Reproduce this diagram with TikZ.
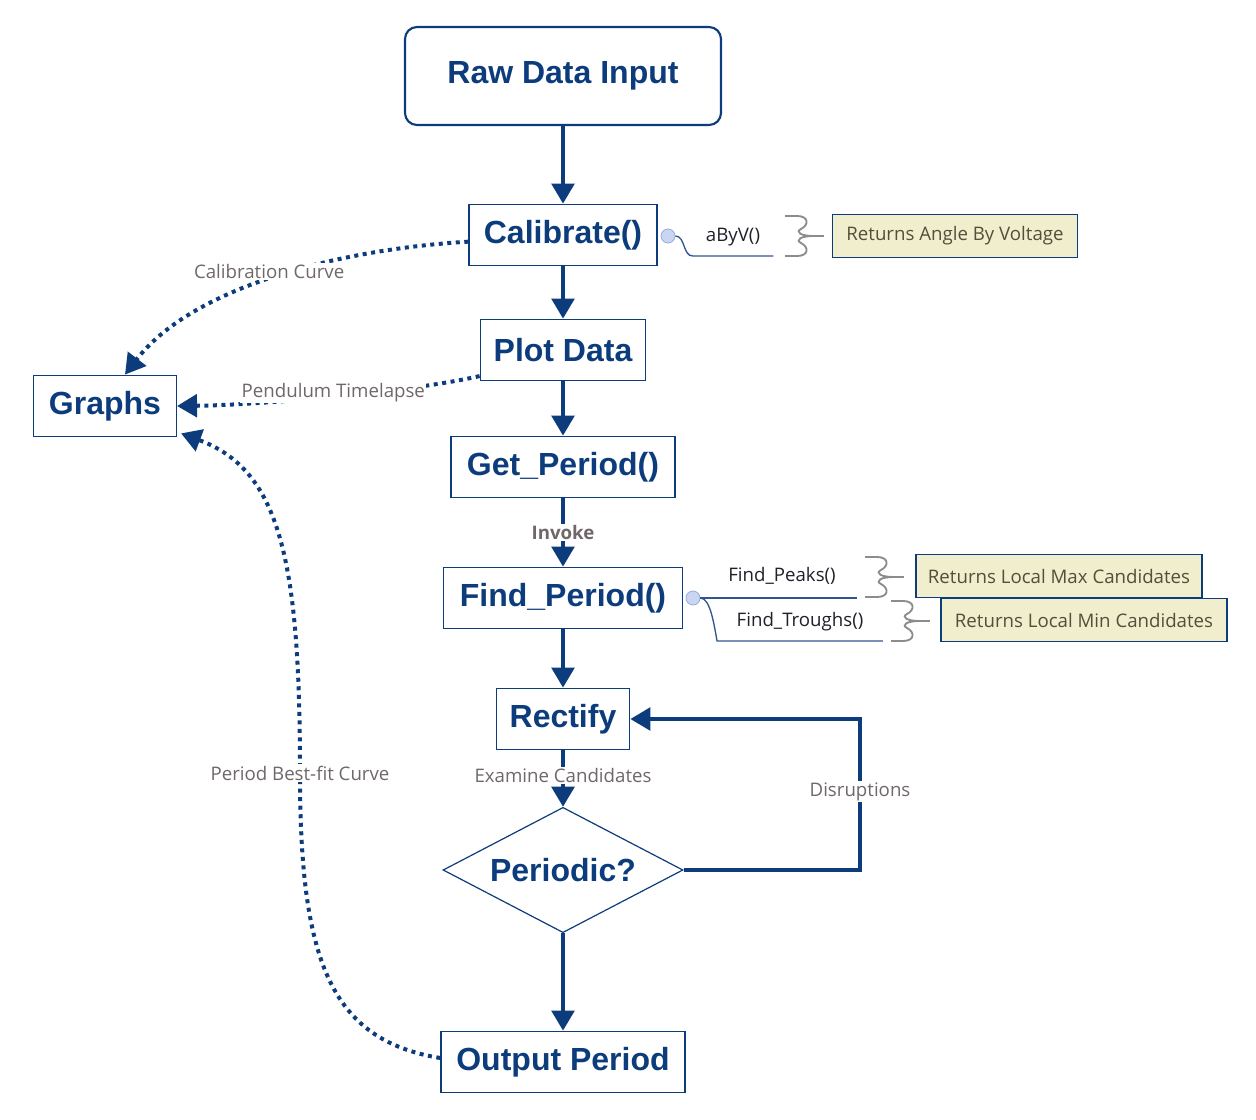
\documentclass[tikz,border=0pt]{standalone}
\usepackage{fontspec}
\setmainfont{Liberation Sans}
\newfontfamily\labelfont{Open Sans}
\usetikzlibrary{arrows.meta, shapes.geometric, positioning, calc}
\definecolor{flowblue}{RGB}{12,60,124}
\definecolor{branchblue}{RGB}{50,85,140}
\definecolor{lblgray}{RGB}{112,104,104}
\definecolor{notefill}{RGB}{240,238,204}
\definecolor{notetext}{RGB}{85,78,60}
\definecolor{fntext}{RGB}{35,30,40}
\definecolor{knobfill}{RGB}{200,214,242}
\definecolor{knobdraw}{RGB}{150,172,218}
\definecolor{bracegray}{RGB}{140,140,140}

\begin{document}
\begin{tikzpicture}[x=0.75pt, y=-0.75pt,
    proc/.style={draw=flowblue, line width=1.1pt, fill=white, text=flowblue,
                 font=\fontsize{24}{28}\selectfont\bfseries,
                 minimum height=46pt, inner sep=0pt},
    start/.style={proc, rounded corners=9pt, line width=1.6pt,
                  minimum width=237pt, minimum height=73.5pt},
    decide/.style={proc, diamond, shape aspect=1.9, line width=0.9pt,
                   minimum width=180pt, minimum height=94pt},
    note/.style={draw=flowblue, line width=0.9pt, fill=notefill, text=notetext,
                 font=\labelfont\fontsize{14}{16}\selectfont,
                 minimum height=32.5pt, inner sep=0pt},
    fn/.style={text=fntext, font=\labelfont\fontsize{14}{16}\selectfont,
               anchor=south, text depth=0pt, inner xsep=0pt},
    knob/.style={circle, draw=knobdraw, fill=knobfill, line width=0.6pt,
                 minimum size=10.5pt, inner sep=0pt},
    lbl/.style={fill=white, text=lblgray, font=\labelfont\fontsize{14}{16}\selectfont,
                inner sep=1pt},
    flow/.style={draw=flowblue, line width=2.8pt, -{Triangle[length=15pt, width=17pt]}},
    link/.style={flow, line width=3pt, dash pattern=on 3pt off 3.4pt},
    branch/.style={draw=branchblue, line width=1pt},
    squig/.pic={
      \draw[bracegray, line width=1.4pt]
        (-28,-20) -- (-16,-20) .. controls (-4,-20) and (-4,-11) .. (-12,-7)
        .. controls (-18,-4) and (-12,0) .. (0,0)
        .. controls (-12,0) and (-18,4) .. (-12,7)
        .. controls (-4,11) and (-4,20) .. (-16,20) -- (-28,20);
      \draw[bracegray, line width=1.2pt] (0,0) -- (11,0);
    }
  ]
    \useasboundingbox (0,0) rectangle (1256,1120);

    % main flow
    \node[start] (raw)      at (563,76)   {Raw Data Input};
    \node[proc, minimum width=141pt] (calib)   at (563,235)  {Calibrate()};
    \node[proc, minimum width=124pt] (plot)    at (563,350)  {Plot Data};
    \node[proc, minimum width=168pt] (getper)  at (563,467)  {Get\_Period()};
    \node[proc, minimum width=179pt] (findper) at (563,598)  {Find\_Period()};
    \node[proc, minimum width=100pt] (rectify) at (563,719)  {Rectify};
    \node[decide] (periodic) at (563,870)  {Periodic?};
    \node[proc, minimum width=183pt] (output)  at (563,1062) {Output Period};
    \node[proc, minimum width=107pt] (graphs)  at (105,406)  {Graphs};
    \coordinate (bend) at (860,870);

    % function branches
    \node[knob] (kcal)  at (668,236) {};
    \node[knob] (kfind) at (693,598) {};
    \node[fn, inner ysep=10.5pt, minimum width=60pt]  (abyv)    at (733,256) {aByV()};
    \node[fn, inner ysep=12pt, minimum width=112pt]   (peaks)   at (782,598) {Find\_Peaks()};
    \node[fn, inner ysep=10.5pt, minimum width=124pt] (troughs) at (800,641) {Find\_Troughs()};
    \draw[branch] (kcal.east) .. controls +(10,0) and +(-10,0) .. (abyv.south west) -- (abyv.south east);
    \draw[branch] (kfind.east) -- (peaks.south east);
    \draw[branch] (kfind.east) .. controls +(10,0) and +(-3,-16) .. (troughs.south west) -- (troughs.south east);

    % notes
    \pic at (813,236) {squig};
    \pic at (893,577) {squig};
    \pic at (919,621) {squig};
    \node[note, minimum width=184pt]   (nangle) at (955,236)  {Returns Angle By Voltage};
    \node[note, minimum width=214.5pt] (nmax)   at (1059,576) {Returns Local Max Candidates};
    \node[note, minimum width=214.5pt] (nmin)   at (1084,620) {Returns Local Min Candidates};

    % arrows
    \draw[flow] (raw) -- (calib);
    \draw[flow] (calib) -- (plot);
    \draw[flow] (plot) -- (getper);
    \draw[flow] (getper) -- (findper) node[lbl, midway, font=\labelfont\bfseries\fontsize{14}{16}\selectfont] {Invoke};
    \draw[flow] (findper) -- (rectify);
    \draw[flow] (rectify) -- (periodic) node[lbl, midway, yshift=2pt] {Examine Candidates};
    \draw[flow] (periodic) -- (output);
    \draw[flow] (periodic.east) -- (bend) |- (rectify.east) node[lbl, pos=0.26] {Disruptions};

    % dotted links to graphs
    \draw[link] ([yshift=-5pt]calib.west) .. controls (330,250) and (190,290) ..
      ([xshift=15pt]graphs.north) node[lbl, pos=0.5, yshift=6pt] {Calibration Curve};
    \draw[link] ([yshift=4pt]plot.south west) .. controls (410,392) and (260,405) ..
      (graphs.east) node[lbl, pos=0.5, yshift=3pt] {Pendulum Timelapse};
    \draw[link] ([yshift=3pt]output.west) .. controls (330,1040) and (300,960) ..
      (300,773) node[lbl] {Period Best-fit Curve}
      .. controls (300,560) and (280,470) .. ([xshift=3pt, yshift=3pt]graphs.south east);
\end{tikzpicture}
\end{document}
